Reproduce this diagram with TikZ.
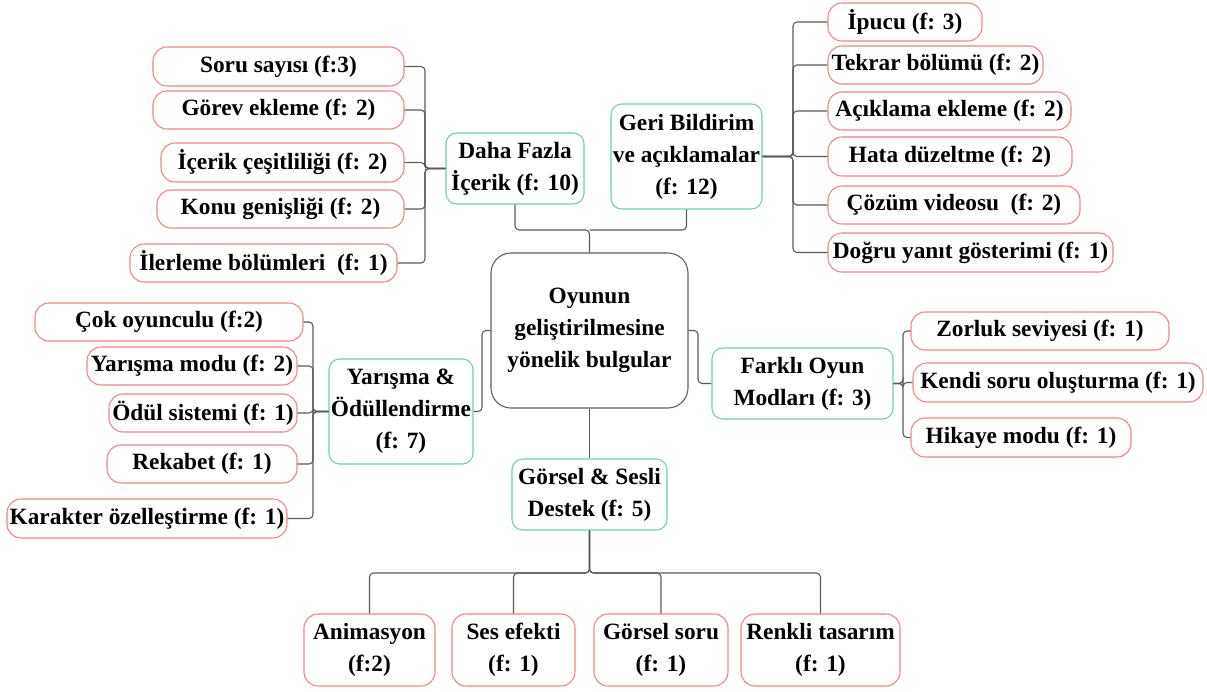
\documentclass[tikz,border=0pt]{standalone}
\usepackage{fontspec}
\setmainfont{Liberation Serif}
\definecolor{leafred}{RGB}{247,130,130}
\definecolor{catgreen}{RGB}{110,210,160}
\definecolor{rootgray}{RGB}{95,95,95}
\definecolor{conngray}{RGB}{90,90,90}
\begin{document}
\begin{tikzpicture}[x=0.75pt,y=-0.75pt,
  base/.style={draw, rectangle, inner sep=0pt, align=center,
    font=\fontsize{17.5}{24}\selectfont\bfseries, line width=0.8pt, fill=white},
  leaf/.style={base, draw=leafred, rounded corners=10.5pt},
  cat/.style={base, draw=catgreen, rounded corners=8pt},
  root/.style={base, draw=rootgray, rounded corners=15pt},
  sz/.style 2 args={minimum width=#1*0.75pt, minimum height=#2*0.75pt},
  conn/.style={draw=conngray, line width=0.8pt, rounded corners=3pt}]
\fill[white] (0,0) rectangle (1207,692);
\useasboundingbox (0,0) rectangle (1207,692);

% root and categories
\node[root, sz={197}{155}] (main) at (589.5,330.5) {Oyunun\\geliştirilmesine\\yönelik bulgular};
\node[cat, sz={138}{71}] (daha) at (515,168.5) {Daha Fazla\\İçerik (f: 10)};
\node[cat, sz={151}{105}] (geri) at (686.5,156.5) {Geri Bildirim\\ve açıklamalar\\(f: 12)};
\node[cat, sz={144}{105}] (yar) at (401,411.5) {Yarışma \&\\Ödüllendirme\\(f: 7)};
\node[cat, sz={181}{71}] (fark) at (802.5,383.5) {Farklı Oyun\\Modları (f: 3)};
\node[cat, sz={155}{71}] (gors) at (589.5,494.5) {Görsel \& Sesli\\Destek (f: 5)};

% Daha Fazla leaves
\node[leaf, sz={251}{39}] (soru) at (278.5,66.5) {Soru sayısı (f:3)};
\node[leaf, sz={251}{38}] (gorev) at (278.5,110) {Görev ekleme (f: 2)};
\node[leaf, sz={243}{39}] (icerik) at (282.5,162.5) {İçerik çeşitliliği (f: 2)};
\node[leaf, sz={247}{38}] (konu) at (280.5,209) {Konu genişliği (f: 2)};
\node[leaf, sz={267}{38}] (ilerleme) at (263.5,263) {İlerleme bölümleri~ (f: 1)};

% Geri Bildirim leaves
\node[leaf, sz={154}{38}] (ipucu) at (905,22) {İpucu (f: 3)};
\node[leaf, sz={215}{38}] (tekrar) at (935.5,65) {Tekrar bölümü (f: 2)};
\node[leaf, sz={243}{38}] (aciklama) at (949.5,111) {Açıklama ekleme (f: 2)};
\node[leaf, sz={244}{39}] (hata) at (950,156.5) {Hata düzeltme (f: 2)};
\node[leaf, sz={252}{38}] (cozum) at (954,205) {Çözüm videosu~ (f: 2)};
\node[leaf, sz={285}{39}] (dogru) at (970.5,252.5) {Doğru yanıt gösterimi (f: 1)};

% Yarisma leaves
\node[leaf, sz={268}{38}] (cok) at (169,322) {Çok oyunculu (f:2)};
\node[leaf, sz={210}{38}] (yarmod) at (192,366) {Yarışma modu (f: 2)};
\node[leaf, sz={188}{38}] (odul) at (203,413) {Ödül sistemi (f: 1)};
\node[leaf, sz={190}{38}] (rekabet) at (202,464) {Rekabet (f: 1)};
\node[leaf, sz={280}{39}] (karakter) at (147,518.5) {Karakter özelleştirme (f: 1)};

% Farkli leaves
\node[leaf, sz={258}{38}] (zorluk) at (1040,331) {Zorluk seviyesi (f: 1)};
\node[leaf, sz={290}{39}] (kendi) at (1058,382.5) {Kendi soru oluşturma (f: 1)};
\node[leaf, sz={220}{39}] (hikaye) at (1021,437.5) {Hikaye modu (f: 1)};

% Gorsel leaves
\node[leaf, sz={131}{72}] (anim) at (369.5,650) {Animasyon\\(f:2)};
\node[leaf, sz={123}{72}] (ses) at (513.5,650) {Ses efekti\\(f: 1)};
\node[leaf, sz={134}{72}] (gsoru) at (661,650) {Görsel soru\\(f: 1)};
\node[leaf, sz={159}{72}] (renkli) at (820.5,650) {Renkli tasarım\\(f: 1)};

% junction coordinates
\coordinate (jd) at (425,168.5);
\coordinate (jg) at (793,156.5);
\coordinate (jy) at (313,411.5);
\coordinate (jf) at (903,383.5);
\coordinate (jt) at (589.5,230);
\coordinate (jl) at (482,330.5);
\coordinate (jr) at (698,330.5);
\coordinate (jb) at (589.5,573);

% connectors: Daha Fazla
\foreach \n in {soru,gorev,icerik,konu,ilerleme}
  \draw[conn] (\n.east) -| (jd) -- (daha.west);
% Geri Bildirim
\foreach \n in {ipucu,tekrar,aciklama,hata,cozum,dogru}
  \draw[conn] (\n.west) -| (jg) -- (geri.east);
% Yarisma
\foreach \n in {cok,yarmod,odul,rekabet,karakter}
  \draw[conn] (\n.east) -| (jy) -- (yar.west);
% Farkli
\foreach \n in {zorluk,kendi,hikaye}
  \draw[conn] (\n.west) -| (jf) -- (fark.east);
% Gorsel
\foreach \n in {anim,ses,gsoru,renkli}
  \draw[conn] (gors.south) -- (jb) -| (\n.north);

% root connections
\draw[conn] (main.north) -- (jt) -| (daha.south);
\draw[conn] (jt) -| (geri.south);
\draw[conn] (main.west) -- (jl) |- (yar.east);
\draw[conn] (main.east) -- (jr) |- (fark.west);
\draw[conn] (main.south) -- (gors.north);
\end{tikzpicture}
\end{document}
